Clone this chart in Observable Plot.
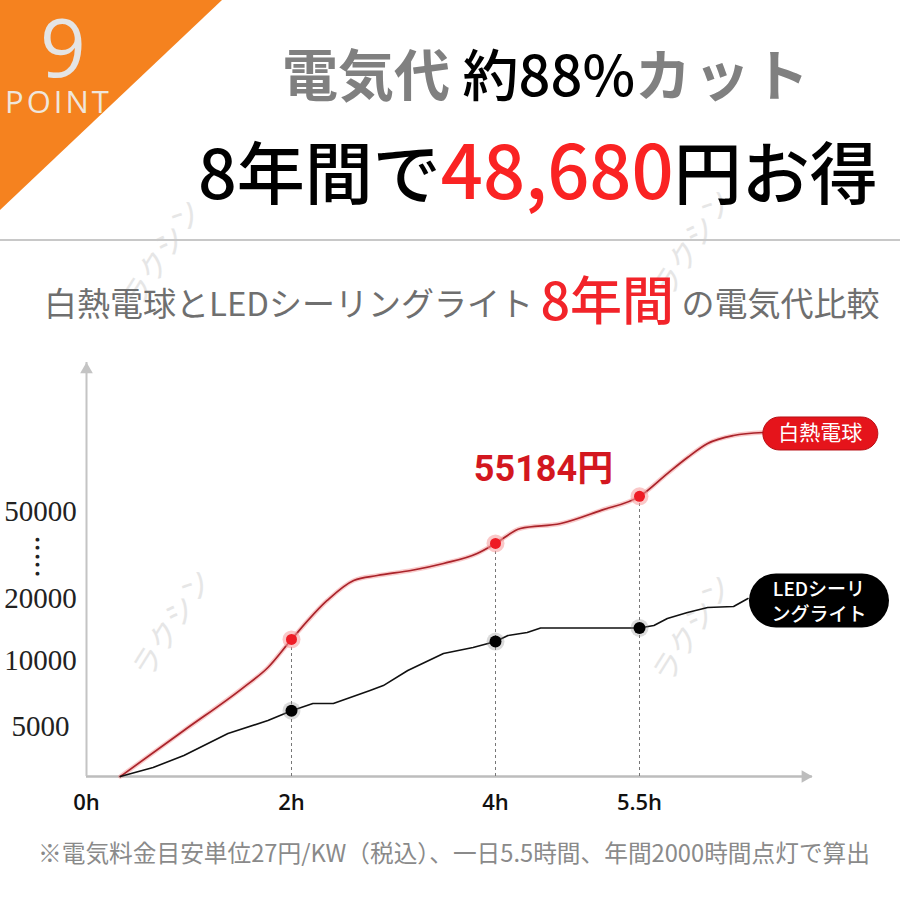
<!DOCTYPE html>
<html>
<head>
<meta charset="utf-8">
<script src="https://cdn.jsdelivr.net/npm/d3@7"></script>
<script src="https://cdn.jsdelivr.net/npm/@observablehq/plot@0.6"></script>
<style>
html, body { margin: 0; padding: 0; background: #fff; }
#page { position: relative; width: 900px; height: 900px; overflow: hidden; font-family: "Noto Sans CJK JP", "Noto Sans", sans-serif; }
.abs { position: absolute; white-space: nowrap; line-height: 1; }
#tri { left: 0; top: 0; width: 222px; height: 210px; background: #f5821f; clip-path: polygon(0 0, 100% 0, 0 100%); }
#nine { left: 40px; top: 8px; font-family: "Open Sans", sans-serif; font-size: 80px; line-height: 76px; color: #e4e4e4; }
#point { left: 5px; top: 86px; font-family: "Open Sans", sans-serif; font-size: 31px; letter-spacing: 3px; color: #efe6dc; }
#h1 { left: 282px; top: 44px; font-size: 56px; }
#h1 .g { color: #808080; font-weight: 700; }
#h1 .k { color: #000; font-weight: 500; }
#h1 .kt { letter-spacing: 3px; }
#h2 { left: 198px; top: 130px; font-size: 68px; color: #000; font-weight: 500; }
#h2 .r { color: #fa2323; font-size: 74px; }
#sep { left: 0; top: 239px; width: 900px; height: 2px; background: #c8c8c8; }
#sub { left: 44px; top: 272px; font-size: 33px; color: #6f6f6f; }
#sub .r { color: #f2242a; font-size: 52px; font-weight: 500; vertical-align: -4px; }
#chart { left: 0; top: 330px; }
#cap { left: 38px; top: 841px; font-size: 23.7px; color: #8a8a8a; }
.wm { position: absolute; font-size: 30px; color: #e6e6e6; transform: rotate(-58deg); white-space: nowrap; }
</style>
</head>
<body>
<div id="page">
  <div class="abs" id="tri"></div>
  <div class="abs" id="nine">9</div>
  <div class="abs" id="point">POINT</div>
  <div class="wm" style="left:100px;top:230px">ラクシン</div>
  <div class="wm" style="left:630px;top:220px">ラクシン</div>
  <div class="abs" id="h1"><span class="g">電気代</span> <span class="k">約88%</span><span class="g kt">カット</span></div>
  <div class="abs" id="h2">8年間で<span class="r">48,680</span>円お得</div>
  <div class="abs" id="sep"></div>
  <div class="abs" id="sub">白熱電球とLEDシーリングライト <span class="r">8年間</span> の電気代比較</div>
  <div class="wm" style="left:110px;top:600px">ラクシン</div>
  <div class="wm" style="left:630px;top:605px">ラクシン</div>
  <div class="abs" id="chart"></div>
  <div class="abs" id="cap">※電気料金目安単位27円/KW（税込）、一日5.5時間、年間2000時間点灯で算出</div>
</div>
<script>
// ---- data (hours lit per day vs. 8-year electricity cost, yen) ----
const incandescentHours = [0.33, 0.95, 1.53, 1.77, 2, 2.35, 2.61, 2.84, 3.17, 3.49, 3.82, 4, 4.26, 4.68, 5.1, 5.5, 5.79, 6.0, 6.21, 6.48, 6.79];
const incandescentCost  = [0, 4600, 7950, 9470, 13400, 19680, 26200, 27930, 29650, 32070, 35520, 39000, 44140, 45860, 50400, 55184, 63000, 68500, 73300, 76030, 77060];
const ledHours = [0.33, 0.65, 0.95, 1.38, 1.77, 2, 2.21, 2.41, 2.77, 2.9, 3.14, 3.49, 3.78, 4, 4.13, 4.33, 4.47, 5.09, 5.5, 5.65, 5.79, 6.0, 6.21, 6.48, 6.63];
const ledCost  = [0, 900, 2100, 4300, 5450, 6200, 6740, 6740, 7730, 8100, 9240, 11130, 12100, 13060, 14030, 14520, 15250, 15250, 15250, 15650, 16770, 17740, 18550, 18710, 20000];
const markerHours = [2, 4, 5.5];
const highlightHour = 5.5;
const seriesNames = ["白熱電球", "LEDシーリ\nングライト"];
const xTickValues = [0, 2, 4, 5.5];
const xTickLabels = ["0h", "2h", "4h", "5.5h"];
const yTickValues = [5000, 10000, 20000, 50000];
const yTickLabels = ["5000", "10000", "20000", "50000"];
const axisBreakValue = 35000;
const xAxisMax = 7.3;
const yAxisMax = 101000;

// the original axes are non-linear: piecewise breakpoints and their relative spacing
const xBreaks = [0, 2, 4, 5.5];
const xSpacing = [0, 205, 409, 553];
const yBreaks = [0, 5000, 10000, 20000, 50000, 100000];
const ySpacing = [0, 50, 116, 178, 265, 411];
const xWarp = d3.scaleLinear().domain(xBreaks).range(xSpacing);
const yWarp = d3.scaleLinear().domain(yBreaks).range(ySpacing);

const inc = incandescentHours.map((h, i) => ({h, v: incandescentCost[i]}));
const led = ledHours.map((h, i) => ({h, v: ledCost[i]}));
const incMarks = inc.filter(d => markerHours.includes(d.h));
const ledMarks = led.filter(d => markerHours.includes(d.h));
const highlight = inc.filter(d => d.h === highlightHour);
const ends = [
  {...inc[inc.length - 1], name: seriesNames[0]},
  {...led[led.length - 1], name: seriesNames[1]}
];

function pill(w, h) {
  return {draw(ctx) {
    const r = h / 2, a = w / 2 - r;
    ctx.moveTo(-a, -r); ctx.lineTo(a, -r);
    ctx.arc(a, 0, r, -Math.PI / 2, Math.PI / 2);
    ctx.lineTo(-a, r);
    ctx.arc(-a, 0, r, Math.PI / 2, 3 * Math.PI / 2);
    ctx.closePath();
  }};
}

const cjk = "'Noto Sans CJK JP', 'Noto Sans', sans-serif";

const chart = Plot.plot({
  width: 900,
  height: 500,
  marginLeft: 86, marginRight: 261, marginTop: 35, marginBottom: 54,
  x: {transform: xWarp, domain: [0, 553], axis: null},
  y: {transform: yWarp, domain: [0, 411], axis: null},
  style: {background: "transparent", overflow: "visible"},
  marks: [
    // axes
    Plot.ruleY([0], {x1: () => 0, x2: () => xAxisMax, stroke: "#bdbdbd", strokeWidth: 2.5}),
    Plot.ruleX([0], {y1: () => 0, y2: () => yAxisMax, stroke: "#c4c4c4", strokeWidth: 2}),
    Plot.dot([xAxisMax], {x: d => d, y: () => 0, symbol: "triangle", r: 4.7, rotate: 90, dx: -7, fill: "#bdbdbd", stroke: "none"}),
    Plot.dot([yAxisMax], {x: () => 0, y: d => d, symbol: "triangle", r: 4.7, dy: 7, fill: "#c4c4c4", stroke: "none"}),
    // tick labels
    Plot.text(xTickValues, {x: d => d, y: () => 0, dy: 26, text: (d, i) => xTickLabels[i], fontSize: 22, fontWeight: 600, fontFamily: "'Liberation Sans Narrow', 'Open Sans', sans-serif", fill: "#111"}),
    Plot.text(yTickValues, {x: () => 0, y: d => d, dx: -46, text: (d, i) => yTickLabels[i], fontSize: 29, fontFamily: "'Liberation Serif', 'DejaVu Serif', serif", fill: "#222"}),
    Plot.text([axisBreakValue], {x: () => 0, y: d => d, dx: -49, text: () => "●\n●\n●\n●\n●", fontSize: 5, lineHeight: 1.7, fill: "#222", fontFamily: "'DejaVu Sans', sans-serif"}),
    // drop lines
    Plot.ruleX(incMarks, {x: "h", y1: () => 0, y2: "v", stroke: "#777", strokeWidth: 1, strokeDasharray: "3,3"}),
    // incandescent line with glow
    Plot.line(inc, {x: "h", y: "v", curve: "monotone-x", stroke: "#f28a8a", strokeOpacity: 0.45, strokeWidth: 4.5}),
    Plot.line(inc, {x: "h", y: "v", curve: "monotone-x", stroke: "#aa232a", strokeWidth: 1.7}),
    // LED line
    Plot.line(led, {x: "h", y: "v", curve: "linear", stroke: "#111", strokeWidth: 1.6}),
    // markers
    Plot.dot(incMarks, {x: "h", y: "v", r: 9, fill: "#f59a9a", fillOpacity: 0.55, stroke: "none"}),
    Plot.dot(incMarks, {x: "h", y: "v", r: 5.5, fill: "#ee1c25", stroke: "none"}),
    Plot.dot(ledMarks, {x: "h", y: "v", r: 9, fill: "#888", fillOpacity: 0.3, stroke: "none"}),
    Plot.dot(ledMarks, {x: "h", y: "v", r: 6, fill: "#000", stroke: "none"}),
    // highlight value
    Plot.text(highlight, {x: "h", y: "v", dx: -96, dy: -27, text: d => `${d.v}円`, fontSize: 36, fontWeight: 700, fill: "#d3171f", fontFamily: "Roboto, " + cjk}),
    // series label pills
    Plot.dot(ends.slice(0, 1), {x: "h", y: "v", dx: 57, dy: 1, symbol: pill(115, 33), r: 5, fill: "#e5141b", stroke: "#b80f15", strokeWidth: 1}),
    Plot.dot(ends.slice(1), {x: "h", y: "v", dx: 71, dy: 2, symbol: pill(140, 54), r: 5, fill: "#000", stroke: "none"}),
    Plot.text(ends.slice(0, 1), {x: "h", y: "v", dx: 57, dy: 1, text: "name", fill: "#fff", fontSize: 21, fontFamily: cjk}),
    Plot.text(ends.slice(1), {x: "h", y: "v", dx: 71, dy: 2, text: "name", fill: "#fff", fontSize: 19, fontWeight: 500, lineHeight: 1.3, fontFamily: cjk})
  ]
});
document.getElementById("chart").appendChild(chart);
</script>
</body>
</html>
